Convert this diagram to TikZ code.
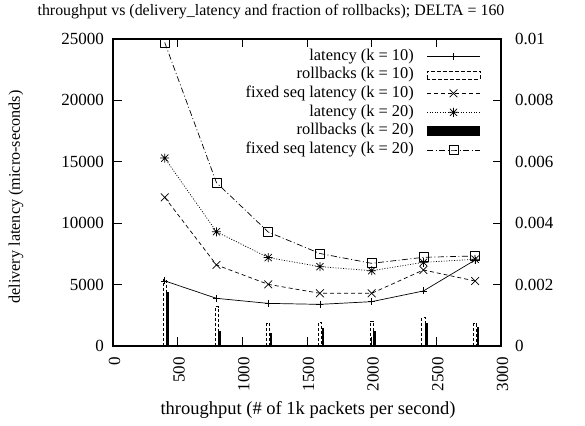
\documentclass[tikz,border=0pt]{standalone}
\usepackage{fontspec}
\setmainfont{Liberation Serif}
\usetikzlibrary{plotmarks}
% gnuplot-style asterisk: a plus sign laid over a cross
\pgfdeclareplotmark{plusx}{%
  \pgfpathmoveto{\pgfqpoint{-\pgfplotmarksize}{0pt}}%
  \pgfpathlineto{\pgfqpoint{\pgfplotmarksize}{0pt}}%
  \pgfpathmoveto{\pgfqpoint{0pt}{-\pgfplotmarksize}}%
  \pgfpathlineto{\pgfqpoint{0pt}{\pgfplotmarksize}}%
  \pgfpathmoveto{\pgfqpoint{-.8\pgfplotmarksize}{-.8\pgfplotmarksize}}%
  \pgfpathlineto{\pgfqpoint{.8\pgfplotmarksize}{.8\pgfplotmarksize}}%
  \pgfpathmoveto{\pgfqpoint{-.8\pgfplotmarksize}{.8\pgfplotmarksize}}%
  \pgfpathlineto{\pgfqpoint{.8\pgfplotmarksize}{-.8\pgfplotmarksize}}%
  \pgfusepathqstroke}
\tikzset{
  lbl/.style={font=\fontsize{17}{19}\selectfont, inner sep=0pt},
  keylbl/.style={font=\fontsize{16.4}{19}\selectfont, inner sep=0pt},
  plotframe/.style={line width=1.2pt},
  axtick/.style={line width=1pt},
  datacurve/.style={line width=0.7pt, line join=round},
  lat10/.style={datacurve, solid, mark=+, mark size=3.5pt, mark options={solid}},
  fix10/.style={datacurve, dash pattern=on 4pt off 3pt, mark=x, mark size=5.5pt, mark options={solid}},
  lat20/.style={datacurve, dash pattern=on 1pt off 1.6pt, mark=plusx, mark size=4.5pt, mark options={solid}},
  fix20/.style={datacurve, dash pattern=on 6pt off 2.5pt on 1pt off 2.5pt, mark=square, mark size=4.5pt, mark options={solid}},
  rb10/.style={line width=0.8pt, dash pattern=on 3pt off 2pt},
  rb20/.style={fill=black, draw=none},
}
\begin{document}
\begin{tikzpicture}[x=1pt,y=1pt]
\useasboundingbox (0,0) rectangle (585,425);

% ---- rollback fractions (right axis, units of 1e-4) ----
\begin{scope}[shift={(113,79)}, x=0.129333pt, y=3.07pt]
  \foreach \xv/\ra/\rb in {400/21.7/17.7, 800/12.8/5.0, 1200/7.3/4.3, 1600/7.6/6.0,
                           2000/8.1/5.0, 2400/9.2/7.6, 2800/7.2/6.1}{
    \fill[rb20] (\xv+13,0) rectangle (\xv+32,\rb);
    \draw[rb10] (\xv-12,0) rectangle (\xv+12,\ra);
  }
\end{scope}

% ---- latency curves (left axis) ----
\begin{scope}[shift={(113,79)}, x=0.129333pt, y=0.01228pt]
  \draw[lat10] plot coordinates {(400,5300) (800,3880) (1200,3470) (1600,3390)
                                 (2000,3610) (2400,4480) (2800,7000)};
  \draw[fix10] plot coordinates {(400,12100) (800,6600) (1200,5020) (1600,4290)
                                 (2000,4290) (2400,6190) (2800,5290)};
  \draw[lat20] plot coordinates {(400,15300) (800,9300) (1200,7200) (1600,6460)
                                 (2000,6130) (2400,6810) (2800,7060)};
  \draw[fix20] plot coordinates {(400,24700) (800,13300) (1200,9280) (1600,7530)
                                 (2000,6730) (2400,7220) (2800,7330)};
\end{scope}

% ---- frame and ticks ----
\draw[plotframe] (113,79) rectangle (501,386);
\foreach \i in {1,...,5}{
  \draw[axtick] ({113+\i*64.6667},79) -- ++(0,8.5);
  \draw[axtick] ({113+\i*64.6667},386) -- ++(0,-8.5);
}
\foreach \i in {1,...,4}{
  \draw[axtick] (113,{79+\i*61.4}) -- ++(9,0);
  \draw[axtick] (501,{79+\i*61.4}) -- ++(-8,0);
}

% ---- tick labels ----
\foreach \i/\t in {0/0,1/5000,2/10000,3/15000,4/20000,5/25000}
  \node[lbl, anchor=east] (yl\i) at (104,{79+\i*61.4}) {\t};
\foreach \i/\t in {0/0,1/0.002,2/0.004,3/0.006,4/0.008,5/0.01}
  \node[lbl, anchor=west] (yr\i) at (515,{79+\i*61.4}) {\t};
\foreach \i/\t in {0/0,1/500,2/1000,3/1500,4/2000,5/2500,6/3000}
  \node[lbl, anchor=east, rotate=90] (xl\i) at ({114.5+\i*64.6667},68) {\t};

% ---- axis labels and title ----
\node[lbl, font=\fontsize{15.9}{18}\selectfont] (title) at (271,413)
  {throughput vs (delivery\_latency and fraction of rollbacks); DELTA = 160};
\node[lbl, font=\fontsize{18.5}{20}\selectfont] (xlab) at (308,15)
  {throughput (\# of 1k packets per second)};
\node[lbl, font=\fontsize{16.2}{18}\selectfont, rotate=90] (ylab) at (16,228)
  {delivery latency (micro-seconds)};

% ---- key ----
\node[keylbl, anchor=east] (leg1) at (414,368.3) {latency (k = 10)};
\node[keylbl, anchor=east] (leg2) at (414,350) {rollbacks (k = 10)};
\node[keylbl, anchor=east] (leg3) at (414,331.7) {fixed seq latency (k = 10)};
\node[keylbl, anchor=east] (leg4) at (414,312.7) {latency (k = 20)};
\node[keylbl, anchor=east] (leg5) at (414,294) {rollbacks (k = 20)};
\node[keylbl, anchor=east] (leg6) at (414,275) {fixed seq latency (k = 20)};
\draw[lat10, mark indices={2}] plot coordinates {(427,368.3) (453.5,368.3) (480,368.3)};
\draw[rb10, dash pattern=on 4pt off 2pt] (427,345.5) rectangle (480,354);
\draw[fix10, mark indices={2}] plot coordinates {(427,331.7) (453.5,331.7) (480,331.7)};
\draw[lat20, mark indices={2}] plot coordinates {(427,312.7) (453.5,312.7) (480,312.7)};
\fill[rb20] (427,289) rectangle (480,298.5);
\draw[fix20, mark indices={2}] plot coordinates {(427,275) (453.5,275) (480,275)};
\end{tikzpicture}
\end{document}
